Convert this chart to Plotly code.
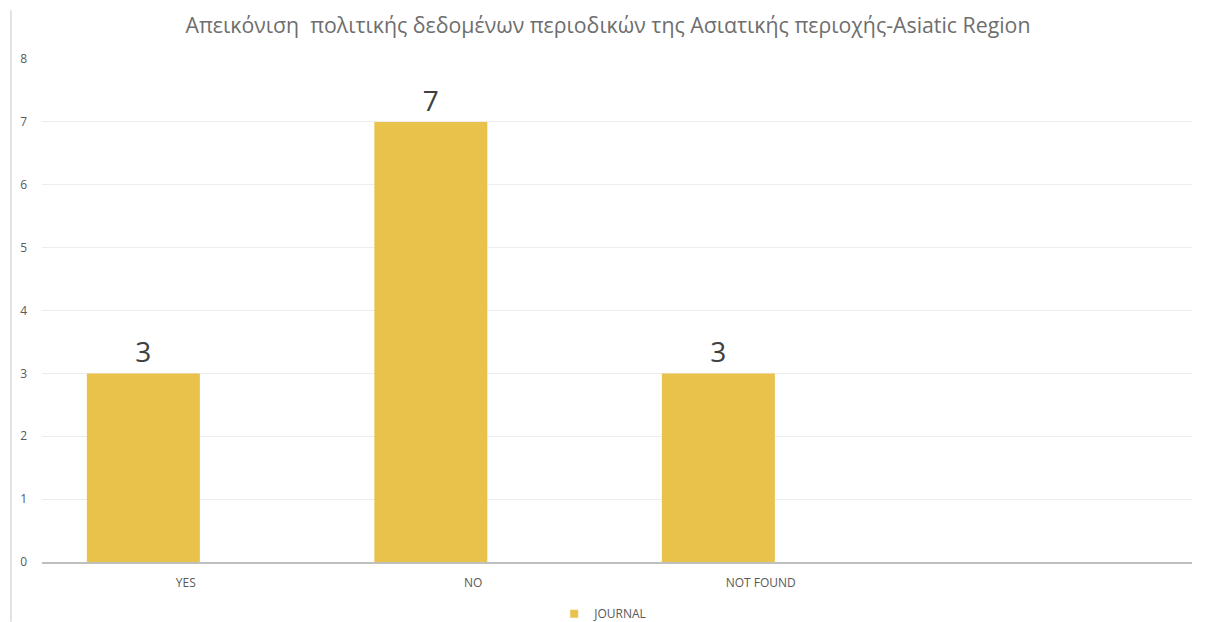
import plotly.graph_objects as go

categories = ["YES", "NO", "NOT FOUND", " "]
journal_values = [3, 7, 3, None]
y_ticks = [0, 1, 2, 3, 4, 5, 6, 7, 8]
series_name = "JOURNAL"
title_text = "Απεικόνιση  πολιτικής δεδομένων περιοδικών της Ασιατικής περιοχής-Asiatic Region"

bar_color = "#E9C24B"
text_gray = "#595959"
title_gray = "#6E6E6E"

fig = go.Figure()
fig.add_trace(go.Bar(
    x=categories,
    y=journal_values,
    name=series_name,
    marker=dict(color=bar_color, line=dict(width=0)),
    width=0.393,
    offset=-0.344,
    text=[("" if v is None else str(v)) for v in journal_values],
    textposition="outside",
    textfont=dict(family="Open Sans, sans-serif", size=28, color="#404040"),
    cliponaxis=False,
    showlegend=False,
))
# legend entry with a small square swatch
fig.add_trace(go.Scatter(
    x=[None], y=[None],
    mode="markers",
    name=series_name,
    marker=dict(symbol="square", size=8, color=bar_color),
    showlegend=True,
))

fig.update_layout(
    width=1200,
    height=614,
    paper_bgcolor="white",
    plot_bgcolor="white",
    margin=dict(l=34, r=16, t=51, b=60, autoexpand=False),
    title=dict(
        text=title_text,
        x=0.5, xanchor="center",
        y=0.971, yanchor="middle",
        font=dict(family="Open Sans, sans-serif", size=21.3, color=title_gray),
    ),
    font=dict(family="Open Sans, sans-serif", color=text_gray),
    xaxis=dict(
        type="category",
        categoryorder="array",
        categoryarray=categories,
        range=[-0.5, 3.5],
        showgrid=False,
        showline=True,
        linecolor="#BFBFBF",
        linewidth=2,
        ticks="",
        tickfont=dict(family="Open Sans, sans-serif", size=12, color=text_gray),
        ticklabelstandoff=9,
        fixedrange=True,
        automargin=False,
    ),
    yaxis=dict(
        range=[0, 8],
        tickvals=y_ticks,
        showgrid=True,
        gridcolor="#EDEDED",
        gridwidth=1,
        zeroline=False,
        showline=False,
        ticks="",
        tickfont=dict(family="Open Sans, sans-serif", size=12, color=text_gray),
        ticklabelstandoff=14,
        fixedrange=True,
        automargin=False,
    ),
    legend=dict(
        orientation="h",
        x=0.488, xanchor="center",
        y=-0.103, yanchor="middle",
        font=dict(family="Open Sans, sans-serif", size=12, color=text_gray),
        itemwidth=30,
    ),
    shapes=[
        dict(type="line", xref="paper", yref="paper",
             x0=-0.027, x1=-0.027, y0=-0.119, y1=1.097,
             line=dict(color="#D9D9D9", width=1.5)),
    ],
)

fig.write_html("out.html")
